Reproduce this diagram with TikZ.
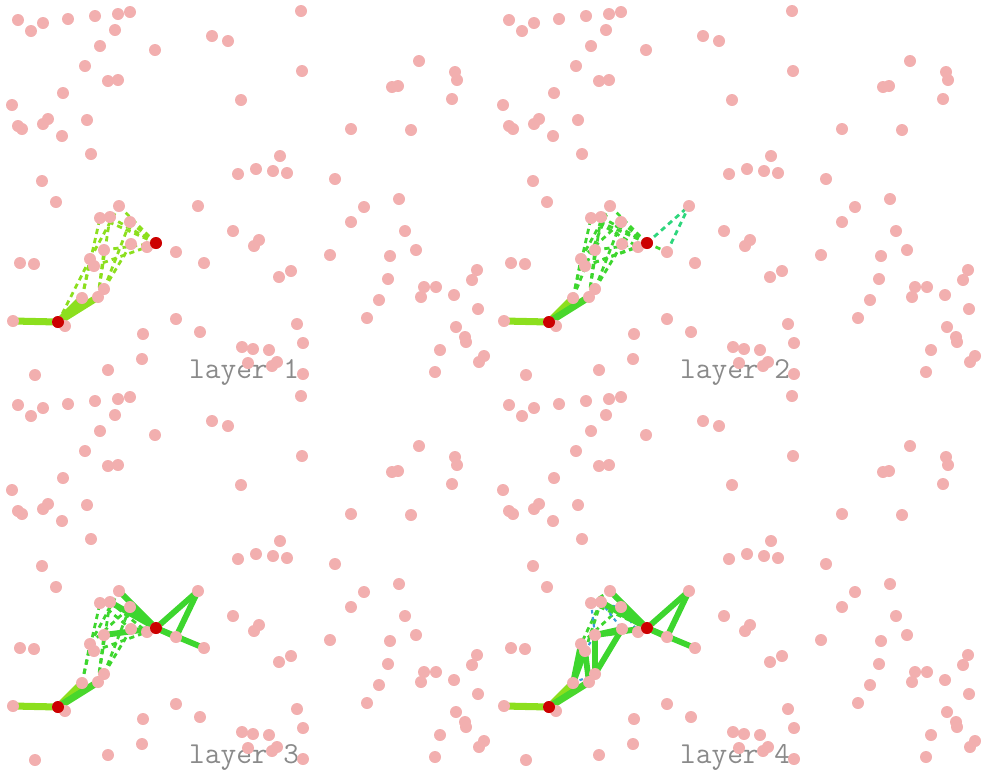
\documentclass[tikz,border=0pt]{standalone}
\usepackage{tikz}

\definecolor{dotpink}{HTML}{F2AFAF}
\definecolor{hitred}{HTML}{CC0000}
\definecolor{limeg}{HTML}{8CDF1E}
\definecolor{greeng}{HTML}{3DD62E}
\definecolor{tealg}{HTML}{2ED67C}
\definecolor{blueg}{HTML}{3A9AD9}
\definecolor{labgray}{HTML}{8A8A8A}

\tikzset{
  layerlabel/.style={anchor=base west, inner sep=0pt, text=labgray,
    font=\ttfamily\fontsize{26}{26}\selectfont},
  solidedge/.style={line width=#1, line cap=round},
  dashedge/.style={line width=2.4pt, dash pattern=on 4.5pt off 3.5pt},
  blueedge/.style={line width=1.8pt, blueg, dash pattern=on 3pt off 3pt},
}

% plain points (pixel positions inside one panel)
\newcommand\plainpts{18/20, 31/31, 43/23, 68/19, 95/16, 118/14, 130/12, 115/30,
  100/46, 155/50, 85/66, 108/81, 118/80, 63/93, 12/105, 18/126, 22/129, 43/124,
  48/119, 87/120, 62/136, 91/154, 42/181, 301/11, 212/36, 228/41, 302/71,
  241/100, 280/156, 256/169, 238/174, 273/171, 287/173, 419/61, 455/72, 457/80,
  392/87, 398/86, 452/99, 351/129, 411/130, 335/179, 399/199, 56/202, 20/263,
  34/264, 65/326, 143/334, 142/359, 108/370, 35/375, 233/231, 259/240, 254/246,
  330/255, 291/271, 279/277, 176/319, 200/332, 297/324, 303/343, 242/347,
  253/349, 269/350, 248/363, 277/362, 272/366, 303/374, 364/207, 351/222,
  405/231, 416/250, 390/256, 388/279, 477/270, 472/280, 424/287, 436/287,
  421/297, 454/295, 379/300, 478/309, 367/318, 456/327, 465/337, 466/342,
  440/350, 484/356, 479/362, 435/372}
% points that carry edges
\newcommand\namedpts{s/13/321, A/58/322, w1/82/298, w2/98/297, w3/104/289,
  m1/90/259, m2/94/266, m3/104/250, u1/100/218, u2/110/217, u3/119/206,
  u4/130/222, b1/131/244, b2/147/247, B/156/243, r1/198/206, r2/176/252,
  r3/204/263}

\begin{document}
\begin{tikzpicture}[x=0.03cm, y=-0.03cm]
  \useasboundingbox (0,0) rectangle (982,770);

  % panels, labels and named points
  \foreach \l/\dx/\dy in {1/0/0, 2/491/0, 3/0/385, 4/491/385} {
    \begin{scope}[shift={(\dx,\dy)}]
      \node[layerlabel] (lab\l) at (189,378) {layer \l};
      \foreach \n/\x/\y in \namedpts
        \coordinate (L\l-\n) at (\x,\y);
    \end{scope}
  }

  % start edges, same in every layer
  \foreach \l in {1,...,4} {
    \draw[solidedge=6pt, limeg] (L\l-s) -- (L\l-A);
    \draw[solidedge=6pt, limeg] (L\l-A) -- (L\l-w1);
  }
  \draw[solidedge=6pt, limeg] (L1-A) -- (L1-w2);
  \foreach \l in {2,3,4}
    \draw[solidedge=6pt, greeng!85!limeg] (L\l-A) -- (L\l-w2);

  % layer 1
  \foreach \a/\b in {w1/u1, w1/m1, w2/u2, w2/m3, w3/u4, w3/b1, m1/u3, m2/b2,
                     m3/B, u1/B, u2/B, u3/B, u4/B, A/m1}
    \draw[dashedge, limeg] (L1-\a) -- (L1-\b);

  % layer 2
  \foreach \a/\b in {w1/u1, w1/m1, w2/u2, w2/m3, w3/u4, w3/b1, m1/u3, m2/b2,
                     m3/B, u1/B, u2/B, u3/B, u4/B, w1/u3, m1/u4, m2/B, u1/b2,
                     B/r2}
    \draw[dashedge, greeng] (L2-\a) -- (L2-\b);
  \foreach \a/\b in {B/r1, r2/r1}
    \draw[dashedge, tealg] (L2-\a) -- (L2-\b);

  % layer 3
  \foreach \a/\b in {w1/u1, w1/m1, w2/u2, w2/m3, w3/u4, w3/b1, m1/u3, m2/b2,
                     u1/b1, u2/b2, m1/u4}
    \draw[dashedge, greeng] (L3-\a) -- (L3-\b);
  \foreach \a/\b in {B/u3, B/u4, B/u2, B/r1, B/r2, B/r3, r1/r2, B/m3}
    \draw[solidedge=5pt, greeng] (L3-\a) -- (L3-\b);

  % layer 4
  \foreach \a/\b in {u1/B, u2/m1, m1/u4, u1/u3, m2/u2}
    \draw[dashedge, greeng] (L4-\a) -- (L4-\b);
  \foreach \a/\b in {u1/u4, u2/b1, m2/m3, u1/m3, u3/b2, w1/w3}
    \draw[blueedge] (L4-\a) -- (L4-\b);
  \foreach \a/\b in {B/u3, B/u4, B/u2, B/r1, B/r2, B/r3, r1/r2, B/m3,
                     w1/m1, w1/m2, w2/m2, w3/m3, w3/b1, m3/b1}
    \draw[solidedge=5pt, greeng] (L4-\a) -- (L4-\b);

  % points on top
  \foreach \l/\dx/\dy in {1/0/0, 2/491/0, 3/0/385, 4/491/385} {
    \begin{scope}[shift={(\dx,\dy)}]
      \foreach \x/\y in \plainpts
        \fill[dotpink] (\x,\y) circle[radius=0.18cm];
    \end{scope}
    \foreach \n/\x/\y in \namedpts
      \fill[dotpink] (L\l-\n) circle[radius=0.18cm];
    \fill[hitred] (L\l-A) circle[radius=0.18cm];
    \fill[hitred] (L\l-B) circle[radius=0.18cm];
  }
\end{tikzpicture}
\end{document}
